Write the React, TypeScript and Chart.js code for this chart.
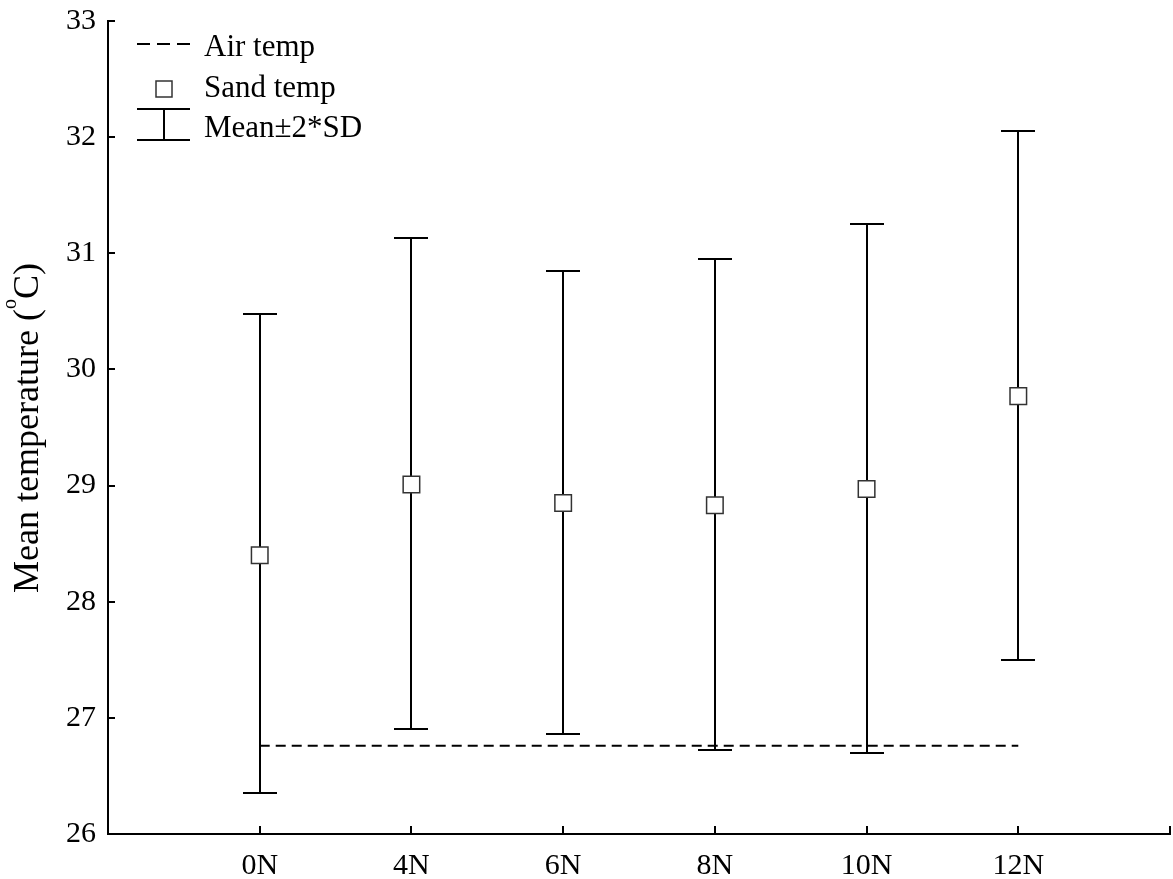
import React, { useEffect, useRef } from 'react';
import { Chart, registerables } from 'chart.js';

Chart.register(...registerables);

const categories = ['0N', '4N', '6N', '8N', '10N', '12N'];
const sandTemp = [28.40, 29.01, 28.85, 28.83, 28.97, 29.77];
const upperSD = [30.48, 31.13, 30.85, 30.95, 31.25, 32.05];
const lowerSD = [26.35, 26.90, 26.86, 26.72, 26.70, 27.50];
const airTemp = [26.76, 26.76, 26.76, 26.76, 26.76, 26.76];
const yMin = 26;
const yMax = 33;

const FONT = '"Liberation Serif", "Times New Roman", serif';
const INK = '#000';

const customPlugin = {
  id: 'customDraw',
  beforeDatasetsDraw(chart: any) {
    const { ctx, scales } = chart;
    const x = scales.x;
    const y = scales.y;
    ctx.save();
    ctx.strokeStyle = INK;
    ctx.lineWidth = 2;
    const cap = 17;
    categories.forEach((_, i) => {
      const px = Math.round(x.getPixelForValue(i));
      const top = Math.round(y.getPixelForValue(upperSD[i]));
      const bot = Math.round(y.getPixelForValue(lowerSD[i]));
      ctx.beginPath();
      ctx.moveTo(px, top);
      ctx.lineTo(px, bot);
      ctx.moveTo(px - cap, top);
      ctx.lineTo(px + cap, top);
      ctx.moveTo(px - cap, bot);
      ctx.lineTo(px + cap, bot);
      ctx.stroke();
    });
    ctx.restore();
  },
  afterDraw(chart: any) {
    const { ctx, scales, chartArea } = chart;
    const x = scales.x;
    const y = scales.y;
    ctx.save();
    // inward tick marks
    ctx.strokeStyle = '#000';
    ctx.lineWidth = 2;
    ctx.beginPath();
    y.ticks.forEach((t: any) => {
      const py = Math.round(y.getPixelForValue(t.value));
      ctx.moveTo(chartArea.left, py);
      ctx.lineTo(chartArea.left + 7, py);
    });
    x.ticks.forEach((t: any) => {
      const px = Math.round(x.getPixelForValue(t.value));
      ctx.moveTo(px, chartArea.bottom);
      ctx.lineTo(px, chartArea.bottom - 8);
    });
    ctx.stroke();

    // legend
    const lx = chartArea.left + 29;
    const tx = chartArea.left + 96;
    ctx.fillStyle = '#000';
    ctx.font = `31px ${FONT}`;
    ctx.textBaseline = 'alphabetic';
    ctx.textAlign = 'left';
    // Air temp
    ctx.strokeStyle = INK;
    ctx.lineWidth = 2;
    ctx.setLineDash([13, 7]);
    ctx.beginPath();
    ctx.moveTo(lx, 44);
    ctx.lineTo(lx + 53, 44);
    ctx.stroke();
    ctx.setLineDash([]);
    ctx.fillText('Air temp', tx, 56);
    // Sand temp
    ctx.fillStyle = '#fff';
    ctx.strokeStyle = '#333';
    ctx.lineWidth = 1.5;
    ctx.fillRect(lx + 19, 81, 16, 16);
    ctx.strokeRect(lx + 19, 81, 16, 16);
    ctx.fillStyle = '#000';
    ctx.fillText('Sand temp', tx, 97);
    // Mean ± 2*SD
    ctx.strokeStyle = INK;
    ctx.lineWidth = 2;
    ctx.beginPath();
    ctx.moveTo(lx + 27, 109);
    ctx.lineTo(lx + 27, 140);
    ctx.moveTo(lx, 109);
    ctx.lineTo(lx + 53, 109);
    ctx.moveTo(lx, 140);
    ctx.lineTo(lx + 53, 140);
    ctx.stroke();
    ctx.fillText('Mean\u00B12*SD', tx, 137);

    // y-axis title with superscript
    const main1 = 'Mean temperature (';
    const sup = 'o';
    const main2 = 'C)';
    const bigFont = `36px ${FONT}`;
    const smallFont = `20px ${FONT}`;
    ctx.font = bigFont;
    const w1 = ctx.measureText(main1).width;
    const w3 = ctx.measureText(main2).width;
    ctx.font = smallFont;
    const w2 = ctx.measureText(sup).width;
    const total = w1 + w2 + w3;
    ctx.translate(38, 428);
    ctx.rotate(-Math.PI / 2);
    ctx.fillStyle = '#000';
    let cx = -total / 2;
    ctx.font = bigFont;
    ctx.fillText(main1, cx, 0);
    cx += w1;
    ctx.font = smallFont;
    ctx.fillText(sup, cx, -22);
    cx += w2;
    ctx.font = bigFont;
    ctx.fillText(main2, cx, 0);
    ctx.restore();
  },
};

const zeroPad = (s: any) => {
  s.paddingTop = 0;
  s.paddingBottom = 0;
  s.paddingLeft = 0;
  s.paddingRight = 0;
};

export default function App() {
  const ref = useRef<HTMLCanvasElement | null>(null);
  useEffect(() => {
    if (!ref.current) return;
    const chart = new Chart(ref.current, {
      type: 'line',
      data: {
        datasets: [
          {
            label: 'Sand temp',
            data: sandTemp.map((v, i) => ({ x: i, y: v })),
            showLine: false,
            pointStyle: 'rect',
            pointRadius: 11.7,
            pointBackgroundColor: '#fff',
            pointBorderColor: '#333',
            pointBorderWidth: 1.5,
          },
          {
            label: 'Air temp',
            data: airTemp.map((v, i) => ({ x: i, y: v })),
            borderColor: INK,
            borderWidth: 2,
            borderDash: [10, 6],
            pointRadius: 0,
            fill: false,
          },
        ],
      },
      options: {
        animation: false,
        responsive: false,
        layout: { autoPadding: false, padding: { left: 0, top: 21, right: 3, bottom: 0 } },
        plugins: { legend: { display: false }, tooltip: { enabled: false } },
        scales: {
          x: {
            type: 'linear',
            min: -1,
            max: 6,
            ticks: {
              stepSize: 1,
              autoSkip: false,
              maxRotation: 0,
              padding: 0,
              color: '#000',
              font: { family: FONT, size: 30 },
              callback: (v: any) => categories[v as number] ?? '',
            },
            grid: { drawOnChartArea: false, drawTicks: true, tickLength: 14, tickColor: 'rgba(0,0,0,0)' },
            border: { color: '#000', width: 2 },
            afterFit: (s: any) => {
              s.height = 45;
              zeroPad(s);
            },
          },
          y: {
            min: yMin,
            max: yMax,
            ticks: {
              stepSize: 1,
              padding: 0,
              color: '#000',
              font: { family: FONT, size: 30 },
            },
            grid: { drawOnChartArea: false, drawTicks: true, tickLength: 12, tickColor: 'rgba(0,0,0,0)' },
            border: { color: '#000', width: 2 },
            afterFit: (s: any) => {
              s.width = 108;
              zeroPad(s);
            },
          },
        },
      },
      plugins: [customPlugin],
    });
    return () => chart.destroy();
  }, []);
  return (
    <div style={{ position: 'absolute', left: 0, top: 0, width: 1173, height: 879, background: '#fff' }}>
      <canvas ref={ref} width={1173} height={879} />
    </div>
  );
}
